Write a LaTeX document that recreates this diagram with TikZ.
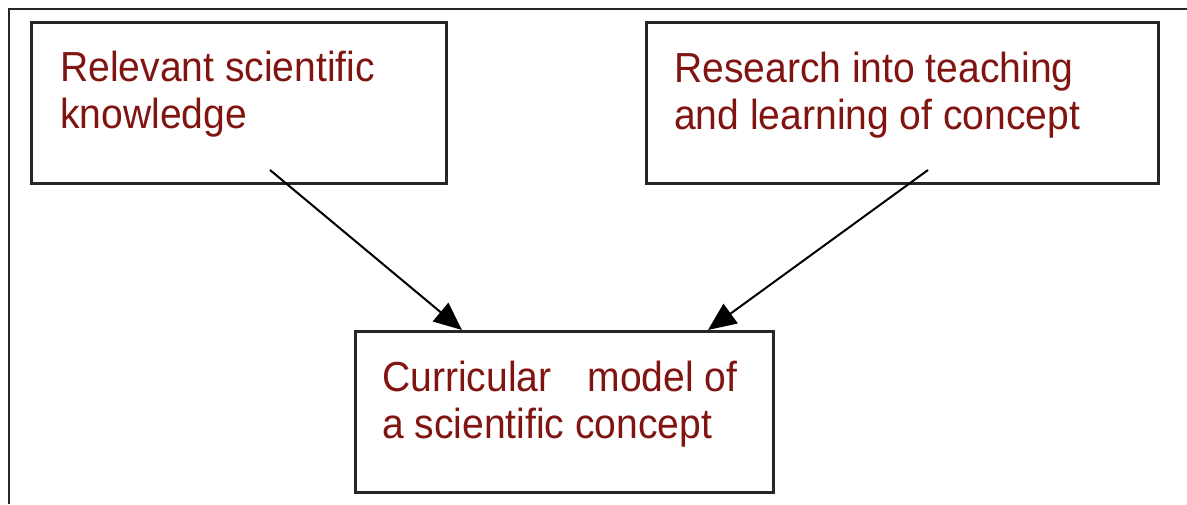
\documentclass[tikz,border=0pt]{standalone}
\usepackage{fontspec}
\setmainfont{Liberation Sans}[FakeStretch=0.93]
\usetikzlibrary{arrows.meta}
\definecolor{txtred}{RGB}{128,20,16}
\tikzset{
  boxstyle/.style={draw=black!85, line width=2.6pt, rectangle, inner sep=0pt},
  lbl/.style={text=txtred, font=\fontsize{42}{47}\selectfont, align=left, inner sep=0pt, anchor=base west},
  conn/.style={line width=2pt, -{Triangle[length=28pt,width=24pt]}},
}
\begin{document}
\begin{tikzpicture}[x=1pt,y=-1pt]
\useasboundingbox (0,0) rectangle (1187,504);
% outer frame (only top and left visible)
\draw[line width=2.6pt, black!85] (9,504) -- (9,9) -- (1187,9);
% boxes
\node[boxstyle, minimum width=415pt, minimum height=161pt, anchor=north west] (box1) at (30,21) {};
\node[boxstyle, minimum width=512pt, minimum height=161pt, anchor=north west] (box2) at (645,21) {};
\node[boxstyle, minimum width=418pt, minimum height=161pt, anchor=north west] (box3) at (354,330) {};
% labels
\node[lbl] (t1) at (60,128) {Relevant scientific\\knowledge};
\node[lbl] (t2) at (674,129) {Research into teaching\\and learning of concept};
\node[lbl] (t3) at (382,438) {Curricular\hspace{0.6em} model of\\a scientific concept};
% connectors
\coordinate (s1) at (270,170);
\coordinate (s2) at (928,170);
\coordinate (e1) at (462,330);
\coordinate (e2) at (708,330);
\draw[conn] (s1) -- (e1 |- box3.north);
\draw[conn] (s2) -- (e2 |- box3.north);
\end{tikzpicture}
\end{document}
